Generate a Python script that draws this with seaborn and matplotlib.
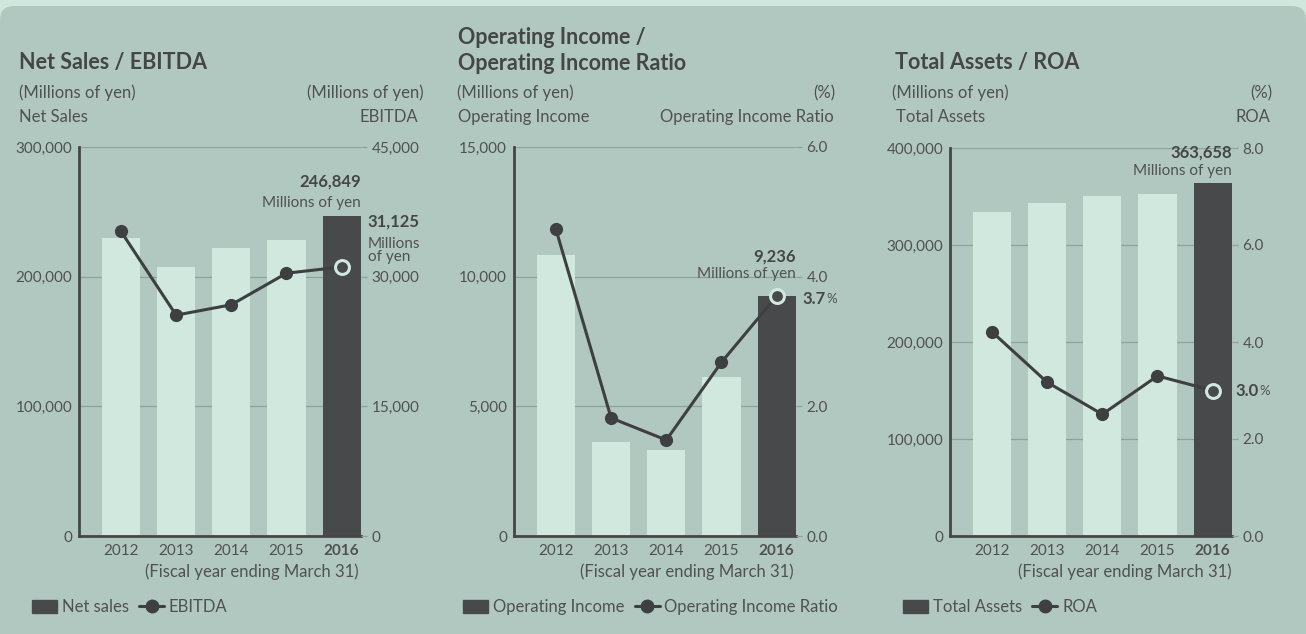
import numpy as np
import seaborn as sns
import matplotlib.pyplot as plt
from matplotlib.patches import Patch, FancyBboxPatch
from matplotlib.lines import Line2D
from matplotlib.ticker import FuncFormatter
from matplotlib.transforms import IdentityTransform

# values
years = ['2012', '2013', '2014', '2015', '2016']
net_sales = [229600, 207400, 222100, 228300, 246849]
ebitda = [35250, 25550, 26750, 30400, 31125]
op_income = [10820, 3630, 3320, 6140, 9236]
op_ratio = [4.73, 1.82, 1.48, 2.68, 3.7]
total_assets = [333800, 343000, 350200, 352300, 363658]
roa = [4.21, 3.17, 2.51, 3.30, 3.0]

W, H = 1306, 634
panel_bg = '#b1c8c0'
strip_bg = '#cfe7dc'
light_bar = '#d0e8de'
dark_bar = '#48494b'
line_c = '#3e3f41'
text_c = '#505151'
title_c = '#454646'
grid_c = '#8ca29a'

sns.set_style('white')
plt.rcParams['font.family'] = ['Lato', 'DejaVu Sans']

fig = plt.figure(figsize=(W / 100, H / 100), dpi=100)
fig.patch.set_facecolor(strip_bg)
fig.add_artist(FancyBboxPatch((0, -30), W, H - 6 + 30,
                              boxstyle='round,pad=0,rounding_size=14',
                              transform=IdentityTransform(),
                              fc=panel_bg, ec='none', zorder=0))


def fx(x):
    return x / W


def fy(y):
    return 1 - y / H


def ftext(x, y, s, ha='left', size=12, weight='normal', color=text_c):
    fig.text(fx(x), fy(y), s, ha=ha, va='center', fontsize=size,
             fontweight=weight, color=color)


def draw(left, top, bars, line, ymax, y2max, nt, fmt2, legend_x, labels):
    bottom = 536
    ax = fig.add_axes([fx(left), fy(bottom), 282 / W, (bottom - top) / H])
    ax.set_facecolor('none')
    sns.barplot(x=years, y=bars, hue=years,
                palette=[light_bar] * (len(years) - 1) + [dark_bar],
                legend=False, width=0.69, saturation=1, ax=ax,
                edgecolor='none', linewidth=0)
    ax.set_ylim(0, ymax)
    ax.set_yticks(np.linspace(0, ymax, nt))
    ax.yaxis.set_major_formatter(FuncFormatter(lambda v, p: f'{v:,.0f}'))
    ax.grid(axis='y', color=grid_c, lw=0.9)
    ax.grid(axis='x', visible=False)
    ax.set_axisbelow(True)
    for s in ['top', 'right']:
        ax.spines[s].set_visible(False)
    for s in ['left', 'bottom']:
        ax.spines[s].set_color(title_c)
        ax.spines[s].set_linewidth(2)
    ax.tick_params(axis='y', length=0, pad=5, labelsize=11, labelcolor=text_c)
    ax.tick_params(axis='x', length=0, pad=6, labelsize=11, labelcolor=text_c)
    ax.set_xlabel('')
    ax.set_ylabel('')
    ax.get_xticklabels()[-1].set_fontweight('bold')

    ax2 = ax.twinx()
    xs = np.arange(len(years))
    sns.lineplot(x=xs, y=line, ax=ax2, color=line_c, lw=2.2, marker='o',
                 markersize=9.5, markeredgewidth=0)
    ax2.plot(xs[-1], line[-1], 'o', ms=10, mfc=dark_bar, mec=light_bar,
             mew=2.2, zorder=5)
    ax2.set_ylim(0, y2max)
    ax2.set_yticks(np.linspace(0, y2max, nt))
    ax2.yaxis.set_major_formatter(FuncFormatter(fmt2))
    ax2.tick_params(axis='y', length=4.5, width=0.9, color=grid_c, pad=3,
                    labelsize=11, labelcolor=text_c)
    for s in ax2.spines.values():
        s.set_visible(False)
    ax2.set_ylabel('')
    ax.set_xlim(-0.76, 4.35)

    handles = [Patch(color=dark_bar),
               Line2D([], [], color=line_c, lw=2.2, marker='o', ms=9)]
    ax2.legend(handles=handles, labels=labels, loc='center left',
               bbox_to_anchor=(fx(legend_x), fy(607)),
               bbox_transform=fig.transFigure, ncol=2, frameon=False,
               fontsize=12, labelcolor=text_c, handlelength=1.5,
               handleheight=0.8, handletextpad=0.3, columnspacing=0.6,
               borderpad=0, borderaxespad=0)
    return ax, ax2


# Net sales / EBITDA
ax, ax2 = draw(79, 147, net_sales, ebitda, 300000, 45000, 4,
               lambda v, p: f'{v:,.0f}', 32, ['Net sales', 'EBITDA'])
edge = len(years) - 1 + 0.345
ax.annotate(f'{net_sales[-1]:,}', (edge, net_sales[-1]), xytext=(0, 25),
            textcoords='offset points', ha='right', va='center',
            fontsize=12, fontweight='bold', color=title_c)
ax.annotate('Millions of yen', (edge, net_sales[-1]), xytext=(0, 9.5),
            textcoords='offset points', ha='right', va='center',
            fontsize=11, color=text_c)
ax2.annotate(f'{ebitda[-1]:,}', (edge, ebitda[-1]), xytext=(5, 33),
             textcoords='offset points', ha='left', va='center',
             fontsize=12, fontweight='bold', color=title_c, annotation_clip=False)
ax2.annotate('Millions\nof yen', (edge, ebitda[-1]), xytext=(5, 12),
             textcoords='offset points', ha='left', va='center',
             fontsize=11, color=text_c, linespacing=0.95, annotation_clip=False)
ftext(19, 62, 'Net Sales / EBITDA', size=15.5, weight='bold', color=title_c)
ftext(19, 93, '(Millions of yen)')
ftext(424, 93, '(Millions of yen)', ha='right')
ftext(19, 117, 'Net Sales')
ftext(418, 117, 'EBITDA', ha='right')
ftext(359, 572, '(Fiscal year ending March 31)', ha='right')

# Operating income / ratio
ax, ax2 = draw(514, 147, op_income, op_ratio, 15000, 6.0, 4,
               lambda v, p: f'{v:.1f}', 463,
               ['Operating Income', 'Operating Income Ratio'])
ax.annotate(f'{op_income[-1]:,}', (edge, op_income[-1]), xytext=(0, 29),
            textcoords='offset points', ha='right', va='center',
            fontsize=12, fontweight='bold', color=title_c)
ax.annotate('Millions of yen', (edge, op_income[-1]), xytext=(0, 16),
            textcoords='offset points', ha='right', va='center',
            fontsize=11, color=text_c)
t = ax2.annotate(f'{op_ratio[-1]:.1f}', (edge, op_ratio[-1]), xytext=(5, -2),
                 textcoords='offset points', ha='left', va='center',
                 fontsize=12, fontweight='bold', color=title_c,
                 annotation_clip=False)
ax2.annotate('%', (1, 0.1), xycoords=t, ha='left', va='bottom',
             fontsize=9.5, color=text_c, annotation_clip=False)
ftext(458, 37, 'Operating Income /', size=15.5, weight='bold', color=title_c)
ftext(458, 63, 'Operating Income Ratio', size=15.5, weight='bold', color=title_c)
ftext(457, 93, '(Millions of yen)')
ftext(835, 93, '(%)', ha='right')
ftext(458, 117, 'Operating Income')
ftext(834, 117, 'Operating Income Ratio', ha='right')
ftext(794, 572, '(Fiscal year ending March 31)', ha='right')

# Total assets / ROA
ax, ax2 = draw(950, 148, total_assets, roa, 400000, 8.0, 5,
               lambda v, p: f'{v:.1f}', 903, ['Total Assets', 'ROA'])
ax.annotate(f'{total_assets[-1]:,}', (edge, total_assets[-1]), xytext=(0, 22),
            textcoords='offset points', ha='right', va='center',
            fontsize=12, fontweight='bold', color=title_c)
ax.annotate('Millions of yen', (edge, total_assets[-1]), xytext=(0, 8.5),
            textcoords='offset points', ha='right', va='center',
            fontsize=11, color=text_c)
t = ax2.annotate(f'{roa[-1]:.1f}', (edge, roa[-1]), xytext=(3, 0),
                 textcoords='offset points', ha='left', va='center',
                 fontsize=12, fontweight='bold', color=title_c,
                 annotation_clip=False)
ax2.annotate('%', (1, 0.1), xycoords=t, ha='left', va='bottom',
             fontsize=9.5, color=text_c, annotation_clip=False)
ftext(895, 62, 'Total Assets / ROA', size=15.5, weight='bold', color=title_c)
ftext(892, 93, '(Millions of yen)')
ftext(1272, 93, '(%)', ha='right')
ftext(896, 117, 'Total Assets')
ftext(1270, 117, 'ROA', ha='right')
ftext(1232, 572, '(Fiscal year ending March 31)', ha='right')

fig.savefig('out.png', dpi=100, facecolor=fig.get_facecolor())
